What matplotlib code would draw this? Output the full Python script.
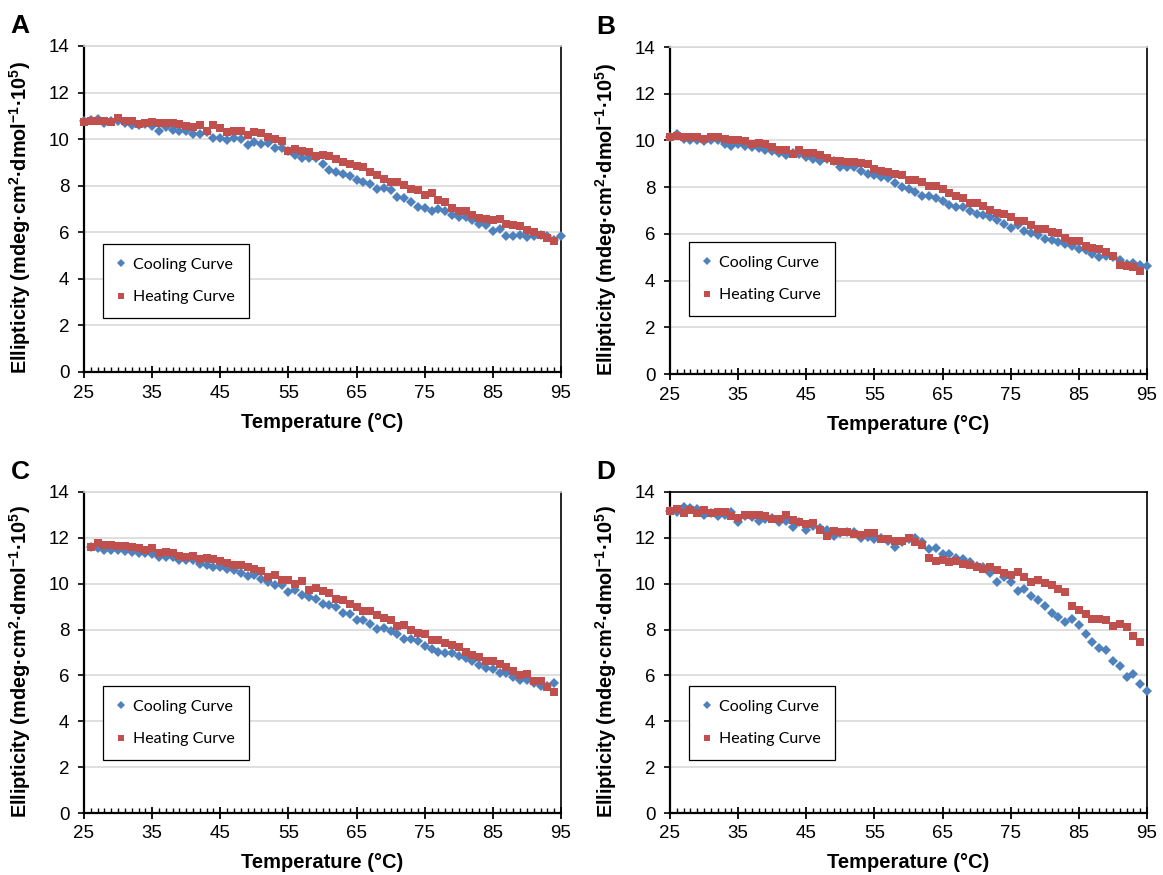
"""
Curvas de elipticidade (resfriamento / aquecimento) em quatro painéis A-D.
"""
import numpy as np
import matplotlib
matplotlib.use('Agg')
import matplotlib.pyplot as plt
from matplotlib.ticker import MultipleLocator

plt.rcParams['font.family'] = ['Liberation Sans', 'DejaVu Sans']
plt.rcParams['mathtext.fontset'] = 'custom'
plt.rcParams['mathtext.rm'] = 'Liberation Sans'
plt.rcParams['mathtext.it'] = 'Liberation Sans:italic'
plt.rcParams['mathtext.bf'] = 'Liberation Sans:bold'
plt.rcParams['mathtext.default'] = 'regular'

# Temperatura inicial de cada serie (um ponto por grau)
a_cool_start, a_heat_start = 25, 25
b_cool_start, b_heat_start = 25, 25
c_cool_start, c_heat_start = 26, 26
d_cool_start, d_heat_start = 25, 25

# Painel A
a_cool = [10.76, 10.83, 10.87, 10.71, 10.8, 10.76, 10.7, 10.59, 10.61, 10.66,
          10.57, 10.37, 10.54, 10.4, 10.36, 10.37, 10.23, 10.21, 10.3, 10.07,
          10.07, 9.97, 10.07, 10.0, 9.76, 9.86, 9.79, 9.83, 9.6, 9.61,
          9.47, 9.33, 9.21, 9.17, 9.19, 8.94, 8.69, 8.61, 8.51, 8.43,
          8.23, 8.14, 8.09, 7.86, 7.9, 7.8, 7.5, 7.46, 7.3, 7.07,
          7.04, 6.93, 7.01, 6.9, 6.73, 6.66, 6.66, 6.51, 6.36, 6.3,
          6.04, 6.13, 5.83, 5.83, 5.9, 5.79, 5.83, 5.9, 5.86, 5.69, 5.83]
a_heat = [10.74, 10.8, 10.8, 10.8, 10.73, 10.9, 10.76, 10.79, 10.66, 10.71,
          10.73, 10.71, 10.69, 10.71, 10.64, 10.57, 10.54, 10.59, 10.37, 10.59,
          10.47, 10.29, 10.37, 10.36, 10.19, 10.3, 10.26, 10.09, 10.01, 9.9,
          9.47, 9.57, 9.5, 9.43, 9.26, 9.33, 9.26, 9.14, 9.0, 8.93,
          8.86, 8.79, 8.57, 8.47, 8.3, 8.14, 8.14, 8.01, 7.86, 7.83,
          7.59, 7.69, 7.4, 7.29, 7.04, 6.93, 6.9, 6.76, 6.6, 6.57,
          6.51, 6.59, 6.36, 6.31, 6.26, 6.11, 6.01, 5.9, 5.76, 5.61]

# Painel B
b_cool = [10.14, 10.29, 10.07, 10.0, 10.0, 9.96, 10.03, 10.0, 9.86, 9.76,
          9.86, 9.76, 9.74, 9.69, 9.61, 9.54, 9.47, 9.39, 9.47, 9.43,
          9.29, 9.21, 9.14, 9.19, 9.1, 8.86, 8.86, 8.86, 8.67, 8.57,
          8.5, 8.43, 8.39, 8.19, 8.0, 7.93, 7.81, 7.6, 7.64, 7.54,
          7.39, 7.24, 7.17, 7.13, 7.0, 6.84, 6.79, 6.71, 6.6, 6.43,
          6.26, 6.36, 6.14, 6.03, 5.97, 5.79, 5.74, 5.67, 5.57, 5.46,
          5.36, 5.29, 5.14, 5.0, 5.07, 5.03, 4.9, 4.69, 4.74, 4.67, 4.64]
b_heat = [10.14, 10.17, 10.14, 10.14, 10.14, 10.04, 10.14, 10.14, 10.04, 10.03,
          10.0, 9.97, 9.86, 9.89, 9.86, 9.74, 9.6, 9.6, 9.43, 9.6,
          9.47, 9.46, 9.36, 9.24, 9.14, 9.1, 9.07, 9.07, 9.03, 9.0,
          8.79, 8.69, 8.64, 8.57, 8.53, 8.31, 8.29, 8.24, 8.04, 8.07,
          7.9, 7.74, 7.6, 7.53, 7.33, 7.31, 7.21, 7.04, 6.89, 6.86,
          6.71, 6.53, 6.53, 6.4, 6.21, 6.19, 6.07, 6.04, 5.81, 5.71,
          5.71, 5.46, 5.39, 5.36, 5.21, 5.07, 4.67, 4.61, 4.57, 4.43]

# Painel C
c_cool = [11.62, 11.57, 11.48, 11.45, 11.45, 11.42, 11.38, 11.33, 11.33, 11.28,
          11.16, 11.16, 11.16, 11.04, 11.04, 11.04, 10.87, 10.83, 10.72, 10.72,
          10.65, 10.61, 10.46, 10.32, 10.36, 10.22, 10.07, 9.93, 9.93, 9.64,
          9.71, 9.49, 9.42, 9.35, 9.1, 9.06, 8.99, 8.72, 8.7, 8.43,
          8.41, 8.23, 8.04, 8.07, 7.94, 7.8, 7.61, 7.61, 7.49, 7.28,
          7.17, 7.03, 6.99, 6.99, 6.84, 6.77, 6.62, 6.45, 6.33, 6.26,
          6.12, 6.09, 5.94, 5.8, 5.8, 5.65, 5.54, 5.54, 5.66]
c_heat = [11.59, 11.77, 11.7, 11.67, 11.65, 11.64, 11.62, 11.55, 11.49, 11.57,
          11.35, 11.38, 11.35, 11.19, 11.16, 11.2, 11.09, 11.13, 11.07, 10.97,
          10.9, 10.8, 10.83, 10.72, 10.62, 10.55, 10.29, 10.39, 10.17, 10.17,
          10.0, 10.12, 9.74, 9.83, 9.68, 9.59, 9.35, 9.28, 9.13, 8.99,
          8.81, 8.8, 8.62, 8.52, 8.41, 8.14, 8.22, 7.97, 7.87, 7.8,
          7.54, 7.54, 7.42, 7.32, 7.25, 7.03, 6.88, 6.81, 6.62, 6.62,
          6.48, 6.38, 6.2, 6.04, 6.06, 5.77, 5.77, 5.51, 5.29]

# Painel D
d_cool = [13.16, 13.12, 13.35, 13.3, 13.28, 13.01, 13.09, 12.97, 13.01, 13.12,
          12.68, 12.94, 12.9, 12.75, 12.83, 12.87, 12.68, 12.75, 12.48, 12.68,
          12.36, 12.51, 12.43, 12.36, 12.1, 12.22, 12.25, 12.25, 12.0, 12.03,
          11.93, 12.0, 11.88, 11.6, 11.8, 11.94, 11.99, 11.8, 11.51, 11.55,
          11.29, 11.29, 11.12, 11.07, 10.93, 10.78, 10.74, 10.45, 10.09, 10.28,
          10.06, 9.7, 9.77, 9.45, 9.29, 9.04, 8.71, 8.57, 8.32, 8.45,
          8.2, 7.81, 7.45, 7.19, 7.09, 6.65, 6.41, 5.93, 6.07, 5.64, 5.32]
d_heat = [13.16, 13.26, 13.09, 13.2, 13.09, 13.23, 13.09, 13.12, 13.12, 12.94,
          12.87, 13.01, 13.01, 13.01, 12.97, 12.83, 12.83, 13.01, 12.8, 12.68,
          12.61, 12.65, 12.36, 12.1, 12.29, 12.26, 12.26, 12.19, 12.12, 12.22,
          12.22, 11.93, 11.93, 11.88, 11.88, 12.0, 11.8, 11.7, 11.14, 10.97,
          11.04, 10.93, 10.97, 10.86, 10.83, 10.74, 10.64, 10.71, 10.59, 10.46,
          10.39, 10.49, 10.28, 10.06, 10.16, 10.03, 9.94, 9.77, 9.62, 9.01,
          8.87, 8.68, 8.46, 8.46, 8.42, 8.17, 8.25, 8.1, 7.74, 7.45]

x_ticks = [25, 35, 45, 55, 65, 75, 85, 95]
y_ticks = [0, 2, 4, 6, 8, 10, 12, 14]
cool_label = 'Cooling Curve'
heat_label = 'Heating Curve'
x_label = 'Temperature (°C)'
y_label = 'Ellipticity (mdeg·cm$^{2}$·dmol$^{-1}$·10$^{5}$)'

COR_AZUL = '#4F81BD'
COR_VERM = '#C0504D'

W, H = 1163, 875
fig = plt.figure(figsize=(W / 100, H / 100), dpi=100)


def painel(px_left, px_top, px_bottom, letra, cool_start, cool, heat_start, heat,
           leg_bottom_px, top_color):
    """Desenha um painel com as duas curvas."""
    px_w = 477
    ax = fig.add_axes([px_left / W, 1 - px_bottom / H, px_w / W, (px_bottom - px_top) / H])
    h = px_bottom - px_top

    t_cool = np.arange(cool_start, cool_start + len(cool))
    t_heat = np.arange(heat_start, heat_start + len(heat))
    ax.plot(t_cool, cool, linestyle='none', marker='D', markersize=4.9,
            color=COR_AZUL, markeredgewidth=0, label=cool_label, clip_on=False, zorder=3)
    ax.plot(t_heat, heat, linestyle='none', marker='s', markersize=5.2,
            color=COR_VERM, markeredgewidth=0, label=heat_label, clip_on=False, zorder=4)

    ax.set_xlim(25, 95)
    ax.set_ylim(0, 14)
    ax.set_xticks(x_ticks)
    ax.set_yticks(y_ticks)
    ax.xaxis.set_minor_locator(MultipleLocator(1))
    ax.yaxis.grid(True, color='#D9D9D9', linewidth=1.2, zorder=0)
    ax.set_axisbelow(True)

    ax.tick_params(axis='x', which='major', direction='inout', length=8, width=1.3,
                   labelsize=13.5, pad=5)
    ax.tick_params(axis='x', which='minor', direction='in', length=3.5, width=1.0)
    ax.tick_params(axis='y', which='major', direction='out', length=4.5, width=1.2,
                   labelsize=13.5, pad=6)

    for lado in ['left', 'bottom']:
        ax.spines[lado].set_linewidth(1.6)
        ax.spines[lado].set_color('black')
    ax.spines['right'].set_linewidth(1.2)
    ax.spines['right'].set_color('black')
    ax.spines['top'].set_linewidth(1.2)
    ax.spines['top'].set_color(top_color)

    ax.set_xlabel(x_label, fontsize=14.5, fontweight='bold')
    ax.xaxis.set_label_coords(0.5, -50 / h)
    ax.xaxis.label.set_va('center')
    ax.set_ylabel(y_label, fontsize=14.3, fontweight='bold')
    ax.yaxis.set_label_coords(-64 / px_w, 0.5 - 9 / h)
    ax.yaxis.label.set_va('center')

    leg = ax.legend(loc='lower left', bbox_to_anchor=(19 / px_w, leg_bottom_px / h),
                    frameon=True, fancybox=False, framealpha=1, edgecolor='black',
                    prop={'family': 'Lato', 'size': 11.5}, labelspacing=1.15,
                    handlelength=0.5, handletextpad=0.55, borderpad=0.85,
                    borderaxespad=0, markerscale=0.75)
    leg.get_frame().set_linewidth(0.9)

    fig.text((px_left - 64) / W, 1 - (px_top - 20) / H, letra, fontsize=19,
             fontweight='bold', ha='center', va='center')
    return ax


painel(84, 46, 372, 'A', a_cool_start, a_cool, a_heat_start, a_heat, 54, '#D9D9D9')
painel(670, 47, 374, 'B', b_cool_start, b_cool, b_heat_start, b_heat, 58, '#D9D9D9')
painel(84, 492, 813, 'C', c_cool_start, c_cool, c_heat_start, c_heat, 53, '#D9D9D9')
painel(670, 492, 813, 'D', d_cool_start, d_cool, d_heat_start, d_heat, 53, 'black')

fig.savefig('out.png', dpi=100)
